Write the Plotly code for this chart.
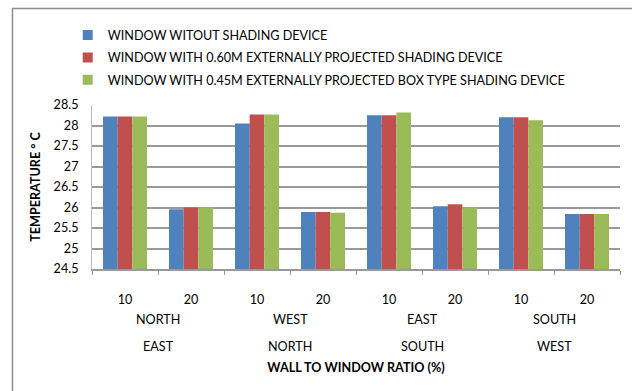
import plotly.graph_objects as go

groups_line1 = ["NORTH", "WEST", "EAST", "SOUTH"]
groups_line2 = ["EAST", "NORTH", "SOUTH", "WEST"]
ratios = ["10", "20"]

series_names = [
    "WINDOW WITOUT SHADING DEVICE",
    "WINDOW WITH 0.60M EXTERNALLY PROJECTED SHADING DEVICE",
    "WINDOW WITH 0.45M EXTERNALLY PROJECTED BOX TYPE SHADING DEVICE",
]
no_shading = [28.22, 25.96, 28.05, 25.89, 28.25, 26.03, 28.20, 25.84]
projected_060 = [28.22, 26.00, 28.27, 25.89, 28.25, 26.08, 28.20, 25.84]
box_045 = [28.22, 26.00, 28.27, 25.87, 28.32, 26.00, 28.13, 25.84]
series_values = [no_shading, projected_060, box_045]
colors = ["#4F81BD", "#C0504D", "#9BBB59"]

y_ticks = [24.5, 25, 25.5, 26, 26.5, 27, 27.5, 28, 28.5]
y_ticktext = ["24.5", "25", "25.5", "26", "26.5", "27", "27.5", "28", "28.5"]

categories = []
tick_labels = []
for g1, g2 in zip(groups_line1, groups_line2):
    for r in ratios:
        categories.append(f"{g1} {g2} {r}")
        tick_labels.append(r)

FONT = "Lato"
FS = 12.6
fig = go.Figure()
for name, vals, col in zip(series_names, series_values, colors):
    fig.add_trace(go.Bar(x=categories, y=vals, name=name, marker_color=col,
                         marker_line_width=0, showlegend=False))
for i, (name, col) in enumerate(zip(series_names, colors)):
    fig.add_trace(go.Scatter(x=[None], y=[None], mode="markers", name=name,
                             legendgroup=f"g{i}",
                             marker=dict(symbol="square", size=10, color=col)))

annotations = []
for i, (g1, g2) in enumerate(zip(groups_line1, groups_line2)):
    xc = i * 2 + 0.5
    annotations.append(dict(x=xc, xref="x", y=0, yref="paper", text=g1, showarrow=False,
                            yshift=-60, font=dict(family=FONT, size=FS, color="#000")))
    annotations.append(dict(x=xc, xref="x", y=0, yref="paper", text=g2, showarrow=False,
                            yshift=-87, font=dict(family=FONT, size=FS, color="#000")))

fig.update_layout(
    width=632, height=391,
    margin=dict(l=92, r=12, t=105, b=122),
    paper_bgcolor="white", plot_bgcolor="white",
    barmode="group", bargap=0.333, bargroupgap=0,
    font=dict(family=FONT, size=FS, color="#000"),
    legend=dict(x=-0.046, y=1.516, xanchor="left", yanchor="top",
                traceorder="grouped", tracegroupgap=3,
                font=dict(family=FONT, size=FS, color="#000"),
                itemwidth=30, bgcolor="rgba(0,0,0,0)"),
    annotations=annotations,
    shapes=[dict(type="rect", xref="paper", yref="paper",
                 x0=-0.1506, x1=1.3, y0=-1.0, y1=1.588,
                 line=dict(color="#8c8c8c", width=1.5), layer="below")],
)
fig.update_xaxes(
    type="category", categoryorder="array", categoryarray=categories,
    tickmode="array", tickvals=categories, ticktext=tick_labels,
    tickson="boundaries", ticks="outside", ticklen=4, tickcolor="#999",
    ticklabelstandoff=18,
    showline=True, linecolor="#999", linewidth=1.5, showgrid=False,
    tickfont=dict(family=FONT, size=FS, color="#000"),
    title=dict(text="<b>WALL TO WINDOW RATIO (%)</b>", standoff=57,
               font=dict(family=FONT, size=FS, color="#000")),
)
fig.update_yaxes(
    range=[24.5, 28.5], tickmode="array", tickvals=y_ticks, ticktext=y_ticktext,
    showgrid=True, gridcolor="#999", gridwidth=1.5,
    showline=True, linecolor="#bbb", linewidth=1,
    ticks="", ticklabelstandoff=10,
    tickfont=dict(family=FONT, size=FS, color="#000"),
    title=dict(text="<b>TEMPERATURE ° C</b>", standoff=10,
               font=dict(family=FONT, size=FS, color="#000")),
    zeroline=False,
)
fig.write_html("out.html")
